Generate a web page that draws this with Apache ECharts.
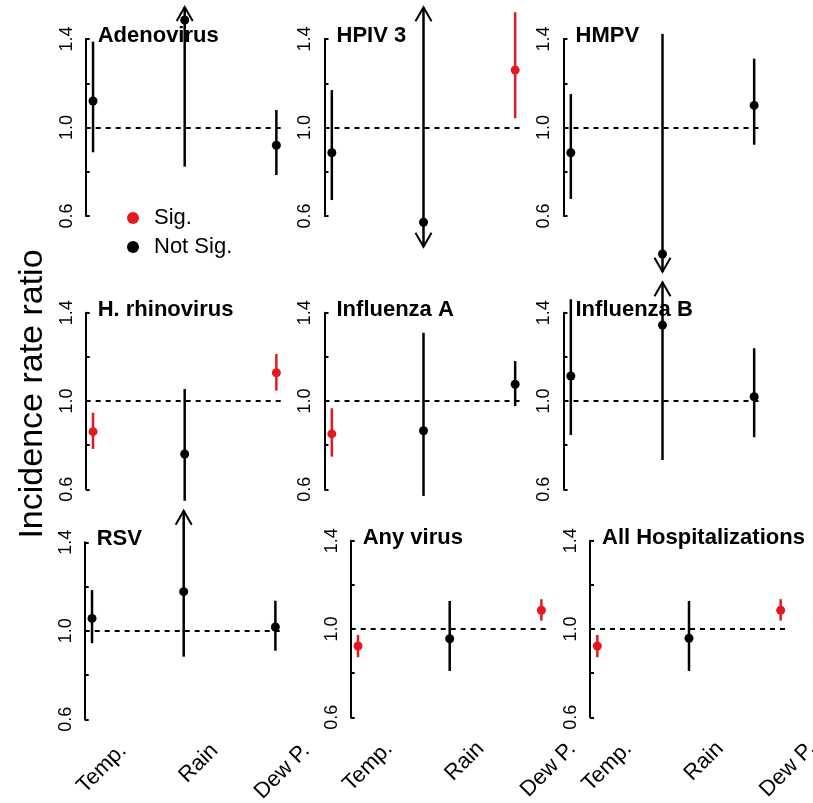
<!DOCTYPE html>
<html><head><meta charset="utf-8">
<script src="https://cdn.jsdelivr.net/npm/echarts@6/dist/echarts.min.js"></script>
<style>html,body{margin:0;padding:0;background:#fff}#c{width:813px;height:803px}</style>
</head><body><div id="c"></div>
<script>
// ---------------- data ----------------
const panels = ['Adenovirus','HPIV 3','HMPV','H. rhinovirus','Influenza A','Influenza B','RSV','Any virus','All Hospitalizations'];
const predictors = ['Temp.','Rain','Dew P.'];
const predictorPos = [1, 2, 3];
const yLabelTicks = [0.6, 1.0, 1.4];
const yTicks = [0.6, 0.8, 1.0, 1.2, 1.4];
const referenceValue = 1.0;
const legendLabels = ['Sig.','Not Sig.'];
const yTitle = 'Incidence rate ratio';
// per panel: [Temp., Rain, Dew P.]
const estimate = [
  [1.120, 1.486, 0.920],
  [0.886, 0.572, 1.260],
  [0.886, 0.428, 1.100],
  [0.861, 0.760, 1.128],
  [0.851, 0.865, 1.076],
  [1.113, 1.344, 1.019],
  [1.056, 1.177, 1.017],
  [0.923, 0.956, 1.085],
  [0.923, 0.958, 1.085]
];
const lower = [
  [0.888, 0.823, 0.785],
  [0.672, 0.461, 1.042],
  [0.677, 0.348, 0.922],
  [0.783, 0.548, 1.047],
  [0.748, 0.570, 0.977],
  [0.846, 0.733, 0.836],
  [0.944, 0.883, 0.910],
  [0.872, 0.810, 1.038],
  [0.872, 0.810, 1.038]
];
const upper = [
  [1.388, 1.545, 1.079],
  [1.169, 1.543, 1.521],
  [1.151, 1.423, 1.311],
  [0.947, 1.054, 1.213],
  [0.967, 1.309, 1.181],
  [1.461, 1.538, 1.239],
  [1.184, 1.543, 1.136],
  [0.973, 1.127, 1.135],
  [0.973, 1.127, 1.135]
];
const significant = [
  [0,0,0],[0,0,1],[0,0,0],[1,0,1],[1,0,0],[0,0,0],[0,0,0],[1,0,1],[1,0,1]
];
// 1 = interval truncated (drawn with arrow head)
const arrowUp = [
  [0,1,0],[0,1,0],[0,0,0],[0,0,0],[0,0,0],[0,1,0],[0,1,0],[0,0,0],[0,0,0]
];
const arrowDown = [
  [0,0,0],[0,1,0],[0,1,0],[0,0,0],[0,0,0],[0,0,0],[0,0,0],[0,0,0],[0,0,0]
];

// ---------------- layout / style ----------------
const FONT = '"Liberation Sans", Arial, sans-serif';
const RED = '#e3191f';
const gridBoxes = [ // left, top (y of 1.4), height
  [85.7, 39, 177], [324.5, 39, 177], [563.5, 39, 177],
  [85.7, 312.7, 176.6], [324.5, 312.7, 176.6], [563.5, 312.7, 176.6],
  [84.7, 542.3, 177], [350.7, 540.7, 176.6], [590, 540.7, 176.6]
];
const gridWidth = 198;
const labelShift = 31;
const bottomRow = [6, 7, 8];

const grids = [], xAxes = [], yAxes = [], series = [], titles = [];

function renderItem(params, api) {
  const x = api.value(0), est = api.value(1), lo = api.value(2), hi = api.value(3);
  const sig = api.value(4), up = api.value(5), dn = api.value(6);
  const pE = api.coord([x, est]), pL = api.coord([x, lo]), pH = api.coord([x, hi]);
  const col = sig ? RED : '#000';
  const children = [{
    type: 'line', shape: {x1: pL[0], y1: pL[1], x2: pH[0], y2: pH[1]},
    style: {stroke: col, lineWidth: 2.5}
  }];
  const head = (p, dir) => ({
    type: 'polyline',
    shape: {points: [[p[0] - 8, p[1] + dir * 14], [p[0], p[1]], [p[0] + 8, p[1] + dir * 14]]},
    style: {stroke: col, lineWidth: 2, fill: null}
  });
  if (up) children.push(head(pH, 1));
  if (dn) children.push(head(pL, -1));
  children.push({type: 'circle', shape: {cx: pE[0], cy: pE[1], r: 4.5}, style: {fill: col}});
  return {type: 'group', children};
}

panels.forEach((name, i) => {
  const [l, t, h] = gridBoxes[i];
  grids.push({left: l, top: t, width: gridWidth, height: h, outerBoundsMode: 'none', containLabel: false});
  xAxes.push({gridIndex: i, type: 'value', min: 0.92, max: 3.08, show: false});
  yAxes.push({
    gridIndex: i, type: 'value', min: 0.6, max: 1.4, interval: 0.2,
    axisLine: {show: true, lineStyle: {color: '#000', width: 2}},
    axisTick: {show: true, inside: true, length: 4, customValues: yTicks, lineStyle: {color: '#000', width: 2}},
    splitLine: {show: false},
    axisLabel: {
      show: true, rotate: 90, margin: 10, customValues: yLabelTicks,
      formatter: v => v.toFixed(1), color: '#000', fontSize: 18, fontFamily: FONT
    }
  });
  titles.push({
    text: name, left: l + 12, top: t - 14, padding: 0,
    textStyle: {fontSize: 22, fontWeight: 'bold', color: '#000', fontFamily: FONT}
  });
  series.push({
    type: 'custom', xAxisIndex: i, yAxisIndex: i, clip: false, silent: true,
    renderItem,
    data: predictorPos.map((x, j) => [x, estimate[i][j], lower[i][j], upper[i][j],
      significant[i][j], arrowUp[i][j], arrowDown[i][j]]),
    markLine: {
      silent: true, symbol: ['none', 'none'], label: {show: false}, animation: false,
      lineStyle: {color: '#000', type: [5, 5], width: 2},
      data: [{yAxis: referenceValue}]
    },
    z: 3
  });
});

// label-only axes for bottom row (shifted like the original's tick labels)
bottomRow.forEach(i => {
  const [l, t, h] = gridBoxes[i];
  const gi = grids.length;
  grids.push({left: l + labelShift, top: t, width: gridWidth, height: h, outerBoundsMode: 'none', containLabel: false});
  xAxes.push({
    gridIndex: gi, type: 'value', min: 0.92, max: 3.08, position: 'bottom',
    axisLine: {show: false}, axisTick: {show: false}, splitLine: {show: false},
    axisLabel: {
      show: true, customValues: predictorPos, rotate: 45, margin: 28,
      formatter: v => predictors[Math.round(v) - 1],
      color: '#000', fontSize: 22, fontFamily: FONT
    }
  });
  yAxes.push({gridIndex: gi, type: 'value', min: 0.6, max: 1.4, show: false});
});

// legend series
series.push({type: 'scatter', name: legendLabels[0], xAxisIndex: 0, yAxisIndex: 0, data: [], itemStyle: {color: RED, opacity: 1}});
series.push({type: 'scatter', name: legendLabels[1], xAxisIndex: 0, yAxisIndex: 0, data: [], itemStyle: {color: '#000', opacity: 1}});

const chart = echarts.init(document.getElementById('c'), null, {renderer: 'canvas'});
chart.setOption({
  animation: false,
  backgroundColor: '#fff',
  title: titles,
  grid: grids,
  xAxis: xAxes,
  yAxis: yAxes,
  legend: {
    orient: 'vertical', left: 127, top: 207, itemWidth: 12, itemHeight: 12, itemGap: 7,
    icon: 'circle', selectedMode: false, padding: 0,
    itemStyle: {opacity: 1},
    textStyle: {fontSize: 22, lineHeight: 21, color: '#000', fontFamily: FONT, padding: [0, 0, 0, 10]},
    data: legendLabels
  },
  graphic: [{
    type: 'text', x: 33, y: 394, rotation: Math.PI / 2, silent: true,
    style: {text: yTitle, font: '34px ' + FONT, fill: '#000', align: 'center', verticalAlign: 'middle'}
  }],
  series
});
</script></body></html>
